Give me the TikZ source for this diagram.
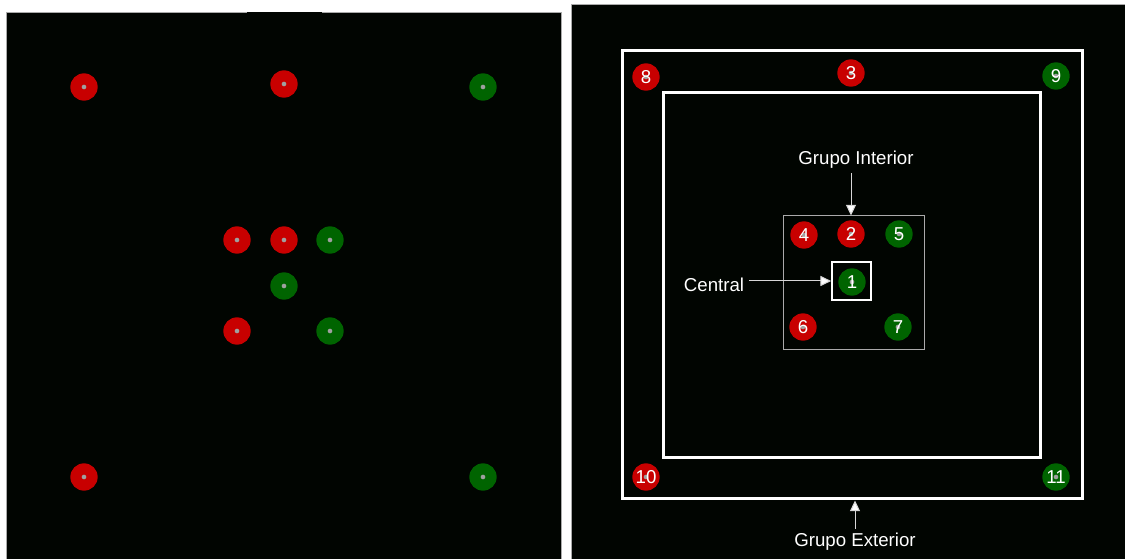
\documentclass[tikz,border=0pt]{standalone}
\usepackage{fontspec}
\setmainfont{Liberation Sans}
\usetikzlibrary{arrows.meta,fit}
\definecolor{bgk}{RGB}{1,5,1}
\definecolor{dred}{RGB}{200,0,0}
\definecolor{dgreen}{RGB}{0,100,0}
\definecolor{pgrey}{RGB}{160,160,160}
\definecolor{lgrey}{RGB}{170,170,170}
\tikzset{
  panel/.style={fill=bgk, draw=lgrey, line width=0.6pt},
  dot/.style={circle, inner sep=0pt, minimum size=20.5pt, text=white, font=\fontsize{14}{16}\selectfont},
  rdot/.style={dot, fill=dred},
  gdot/.style={dot, fill=dgreen},
  pip/.style={circle, fill=pgrey, inner sep=0pt, minimum size=3.5pt},
  wbox/.style={draw=white, line width=2.25pt, inner sep=0pt},
  gbox/.style={draw=lgrey, line width=0.75pt, inner sep=0pt},
  cbox/.style={draw=white, line width=1.3pt, inner sep=0pt},
  lbl/.style={text=white, font=\fontsize{14}{16}\selectfont},
  arr/.style={draw={rgb,255:red,215;green,215;blue,215}, line width=0.75pt, -{Triangle[width=7.5pt,length=8pt,fill=white]}}
}
\begin{document}
\begin{tikzpicture}[x=0.75pt,y=-0.75pt]
\useasboundingbox (0,0) rectangle (1125,559);
\fill[white] (0,0) rectangle (1125,559);
% panels
\draw[panel] (6.5,12.5) rectangle (561.5,560);
\draw[panel] (571.5,4.5) rectangle (1126,560);
\draw[bgk, line width=1pt] (247,12.5) -- (322,12.5);
% left panel dots
\foreach \n/\x/\y/\s in {l1/84/87/rdot, l2/284/84/rdot, l3/483/87/gdot,
  l4/237/240/rdot, l5/284/240/rdot, l6/330/240/gdot, l7/284/286/gdot,
  l8/237/331/rdot, l9/330/331/gdot, l10/84/477/rdot, l11/483/477/gdot} {
  \node[\s] (\n) at (\x,\y) {};
  \node[pip] (\n p) at (\x,\y) {};
}
% right panel frames
\node[wbox, fit={(622,51) (1082,499)}] (outer) {};
\node[wbox, fit={(663,93) (1040,458)}] (inner) {};
\node[gbox, fit={(783,216) (924,350)}] (grpin) {};
\node[cbox, fit={(832,262) (871,300)}] (cb) {};
% right panel dots
\foreach \n/\x/\y/\s/\t in {n8/646/77/rdot/8, n3/851/73/rdot/3, n9/1056/76/gdot/9,
  n4/804/235/rdot/4, n2/851/234/rdot/2, n5/899/234/gdot/5, n1/852/282/gdot/1,
  n6/803/327/rdot/6, n7/898/327/gdot/7, n10/646/477/rdot/10, n11/1056/477/gdot/11} {
  \node[\s] (\n) at (\x,\y) {};
  \node[pip] (\n p) at (\x,\y) {};
  \node[dot] (\n t) at (\x,\y) {\t};
}
% labels
\node[lbl] (gi) at (856,160) {Grupo Interior};
\node[lbl] (ce) at (714,285) {Central};
\node[lbl] (ge) at (855,542) {Grupo Exterior};
\draw[arr] (gi.south -| n2) -- (grpin.north -| n2);
\draw[arr] (ce.east |- cb.west) -- (cb.west);
\draw[arr] (ge.north) -- (ge.north |- outer.south);
\end{tikzpicture}
\end{document}
